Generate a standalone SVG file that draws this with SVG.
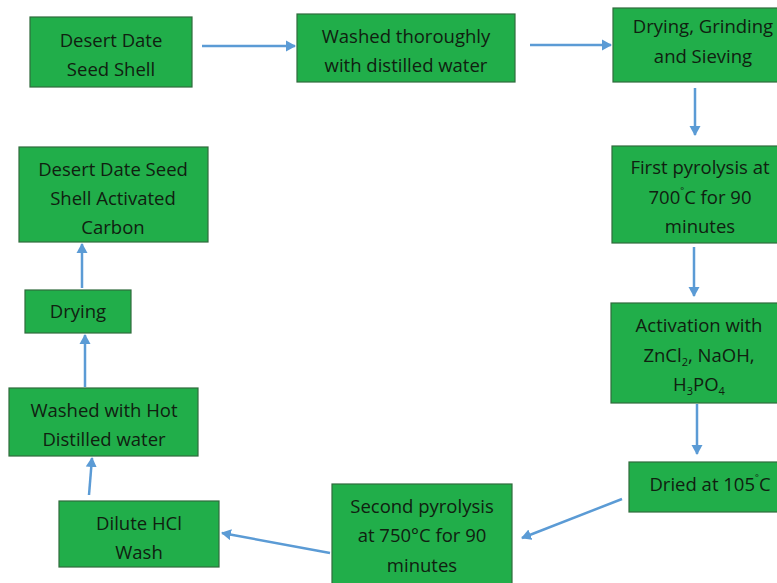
<svg xmlns="http://www.w3.org/2000/svg" width="777" height="583" viewBox="0 0 777 583">
<style>
.box{fill:#21ae4a;stroke:#2f6b3c;stroke-width:1.2}
.t{font-family:"Open Sans","Liberation Sans",sans-serif;font-size:18.5px;fill:#102010;text-anchor:middle}
.c{stroke:#5b9bd5;stroke-width:2.5;fill:none;marker-end:url(#ah)}
</style>
<defs>
<marker id="ah" markerWidth="12" markerHeight="12" refX="9" refY="6" orient="auto" markerUnits="userSpaceOnUse">
<path d="M0,0.5 L10,6 L0,11.5 Z" fill="#5b9bd5"/>
</marker>
</defs>
<rect width="777" height="583" fill="#ffffff"/>
<g id="n1"><rect class="box" x="30" y="17" width="162" height="70"/>
<text class="t" x="111" y="47">Desert Date</text><text class="t" x="111" y="76">Seed Shell</text></g>
<g id="n2"><rect class="box" x="297" y="14" width="218" height="68"/>
<text class="t" x="406" y="43">Washed thoroughly</text><text class="t" x="406" y="72">with distilled water</text></g>
<g id="n3"><rect class="box" x="613" y="8" width="180" height="74"/>
<text class="t" x="703" y="33">Drying, Grinding</text><text class="t" x="703" y="63">and Sieving</text></g>
<g id="n4"><rect class="box" x="612" y="146" width="180" height="97"/>
<text class="t" x="700" y="174">First pyrolysis at</text>
<text class="t" x="700" y="204">700<tspan font-size="9" dy="-10">°</tspan><tspan dy="10">C for 90</tspan></text>
<text class="t" x="700" y="233">minutes</text></g>
<g id="n5"><rect class="box" x="611" y="303" width="180" height="100"/>
<text class="t" x="699" y="332">Activation with</text>
<text class="t" x="699" y="362">ZnCl<tspan font-size="11" dy="4">2</tspan><tspan dy="-4">, NaOH,</tspan></text>
<text class="t" x="699" y="391">H<tspan font-size="11" dy="4">3</tspan><tspan dy="-4">PO</tspan><tspan font-size="11" dy="4">4</tspan></text></g>
<g id="n6"><rect class="box" x="629" y="462" width="160" height="50"/>
<text class="t" x="710" y="491">Dried at 105<tspan font-size="9" dy="-10">°</tspan><tspan dy="10">C</tspan></text></g>
<g id="n7"><rect class="box" x="332" y="484" width="180" height="110"/>
<text class="t" x="422" y="513">Second pyrolysis</text>
<text class="t" x="422" y="542">at 750°C for 90</text>
<text class="t" x="422" y="572">minutes</text></g>
<g id="n8"><rect class="box" x="59" y="501" width="160" height="66"/>
<text class="t" x="139" y="530">Dilute HCl</text><text class="t" x="139" y="559">Wash</text></g>
<g id="n9"><rect class="box" x="9" y="388" width="189" height="68"/>
<text class="t" x="104" y="417">Washed with Hot</text><text class="t" x="104" y="446">Distilled water</text></g>
<g id="n10"><rect class="box" x="25" y="290" width="106" height="43"/>
<text class="t" x="78" y="318">Drying</text></g>
<g id="n11"><rect class="box" x="19" y="147" width="189" height="95"/>
<text class="t" x="113" y="176">Desert Date Seed</text>
<text class="t" x="113" y="205">Shell Activated</text>
<text class="t" x="113" y="234">Carbon</text></g>
<g id="connectors">
<line class="c" x1="202" y1="46" x2="295" y2="46"/>
<line class="c" x1="530" y1="45" x2="611" y2="45"/>
<line class="c" x1="695" y1="88" x2="695" y2="135"/>
<line class="c" x1="694" y1="247" x2="694" y2="296"/>
<line class="c" x1="697" y1="404" x2="697" y2="454"/>
<line class="c" x1="622" y1="499" x2="522" y2="538"/>
<line class="c" x1="330" y1="553" x2="222" y2="533"/>
<line class="c" x1="89" y1="495" x2="92" y2="458"/>
<line class="c" x1="85" y1="387" x2="85" y2="335"/>
<line class="c" x1="82" y1="288" x2="82" y2="244"/>
</g>
</svg>
